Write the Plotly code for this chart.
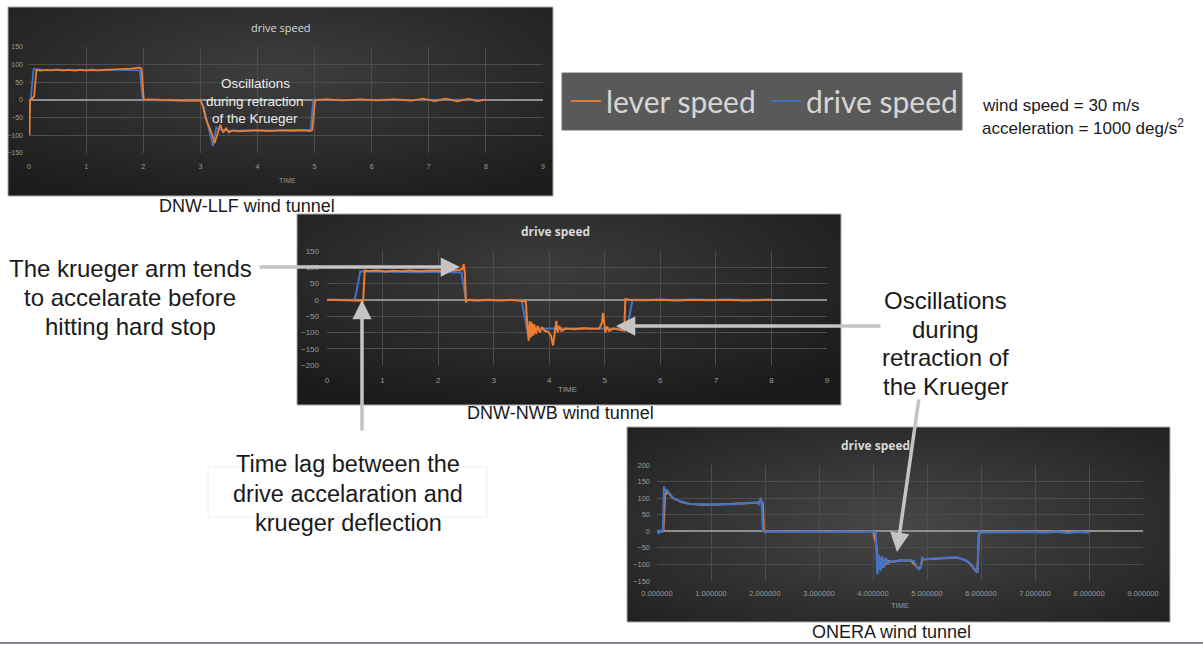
import base64
import plotly.graph_objects as go

W, H = 1203, 646

# ---------------- data ----------------
# DNW-LLF
LLF_T_DRIVE = [0.00, 0.03, 0.08,
               0.15, 0.25, 0.35, 0.45, 0.55, 0.65, 0.75, 0.85, 0.95, 1.05, 1.15, 1.25, 1.35, 1.45, 1.55, 1.65, 1.75, 1.85,
               1.94, 1.99, 2.05, 2.30, 2.60, 2.90, 3.00,
               3.06, 3.12, 3.22, 3.28, 3.34, 3.42,
               3.55, 3.70, 3.90, 4.10, 4.30, 4.50, 4.70,
               4.88, 4.93, 4.98,
               5.20, 5.50, 5.80, 6.10, 6.40, 6.70, 7.00, 7.30, 7.60, 8.00]
LLF_DRIVE = [0, 0, 88,
             86, 85, 84, 86, 84, 85, 84, 85, 84, 85, 84, 84, 85, 84, 85, 85, 84, 85,
             84, 2, -1, -1, -1, -1, -2,
             -20, -60, -130, -78, -84, -86,
             -87, -86, -85, -86, -86, -85, -86,
             -85, -84, 0,
             1, 0, 1, 0, 1, 0, 1, 0, 1, 0]
LLF_T_LEVER = [0.00, 0.01, 0.02, 0.05, 0.09, 0.13,
               0.20, 0.30, 0.40, 0.50, 0.60, 0.70, 0.80, 0.90, 1.00, 1.10, 1.20, 1.30, 1.40, 1.50, 1.60, 1.70, 1.80,
               1.88, 1.94, 1.97, 2.01, 2.10,
               2.40, 2.70, 3.00,
               3.04, 3.10, 3.15, 3.20, 3.25, 3.30, 3.35, 3.40, 3.45, 3.50, 3.56,
               3.65, 3.80, 4.00, 4.20, 4.40, 4.60, 4.80,
               4.92, 4.96, 5.01,
               5.20, 5.50, 5.80, 6.10, 6.40, 6.70, 6.90, 7.10, 7.30, 7.50, 7.70, 7.85, 8.00]
LLF_LEVER = [-5, -100, 0, 4, 10, 85,
             83, 85, 84, 86, 84, 85, 83, 85, 84, 86, 84, 85, 86, 85, 86, 87, 89,
             91, 92, 88, 0, 2,
             -1, -2, -1,
             -15, -55, -75, -95, -122, -95, -70, -92, -80, -92, -86,
             -89, -87, -86, -88, -86, -87, -86,
             -88, -85, 0,
             2, -1, 2, -1, 2, -2, 4, -3, 4, -4, 3, -3, 1]

# DNW-NWB
NWB_T_DRIVE = [0.00, 0.50, 0.60, 0.70,
               0.90, 1.10, 1.30, 1.50, 1.70, 1.90, 2.10, 2.30,
               2.42, 2.50, 2.60, 2.90, 3.20, 3.50, 3.60,
               3.80, 4.00, 4.20, 4.40, 4.60, 4.80, 5.00, 5.20, 5.40,
               5.50, 5.80, 6.20, 6.60, 7.00, 7.40, 7.80, 8.00]
NWB_DRIVE = [0, 0, 88, 87,
             86, 86, 85, 86, 85, 86, 85, 85,
             84, 0, -1, -1, -1, 0, -88,
             -88, -87, -88, -88, -87, -88, -87, -88, -88,
             0, 0, 0, 0, 0, 0, 0, 0]
NWB_T_LEVER = [0.00, 0.30, 0.60, 0.65, 0.68, 0.75,
               0.90, 1.05, 1.20, 1.35, 1.50, 1.65, 1.80, 1.95, 2.10, 2.25,
               2.38, 2.44, 2.46, 2.48, 2.50, 2.55,
               2.70, 2.90, 3.10, 3.30, 3.50,
               3.58, 3.61, 3.63, 3.65, 3.67, 3.69, 3.71, 3.73, 3.76, 3.79, 3.83, 3.87, 3.92, 3.98,
               4.03, 4.07, 4.09, 4.11, 4.13, 4.15, 4.18, 4.22, 4.30,
               4.45, 4.60, 4.75, 4.90,
               4.95, 4.97, 4.99, 5.01, 5.04, 5.08, 5.15, 5.25, 5.35, 5.37,
               5.45, 5.70, 6.00, 6.30, 6.60, 6.90, 7.20, 7.50, 7.80, 8.00]
NWB_LEVER = [0, -1, -2, -3, 90, 88,
             90, 87, 89, 88, 90, 88, 89, 90, 88, 90,
             92, 95, 110, 85, -5, 0,
             -2, 0, -2, 0, -2,
             -5, -90, -125, -65, -115, -70, -110, -75, -105, -80, -100, -85, -95, -98,
             -110, -140, -100, -85, -65, -100, -80, -95, -88,
             -90, -87, -89, -88,
             -70, -40, -80, -100, -82, -95, -88, -91, -94, 2,
             0, -1, 0, -2, 0, -1, 0, -2, 0, 0]

# ONERA
ON_T_DRIVE = [0.00, 0.03, 0.06, 0.09, 0.11, 0.13, 0.15, 0.18, 0.22,
              0.30, 0.40, 0.50, 0.60,
              0.80, 1.00, 1.20, 1.40, 1.60,
              1.75, 1.85, 1.89, 1.92, 1.94, 1.96, 2.00,
              2.20, 2.50, 2.80, 3.10, 3.40, 3.70, 4.00,
              4.05, 4.08, 4.11, 4.14, 4.17, 4.20, 4.24, 4.28, 4.33, 4.40,
              4.50, 4.60, 4.70, 4.76, 4.80, 4.85, 4.88, 4.91, 4.95, 5.00,
              5.20, 5.40, 5.55, 5.65, 5.75, 5.82, 5.88, 5.92, 5.94, 5.96,
              6.00, 6.30, 6.60, 6.90, 7.20, 7.40, 7.60, 7.80, 8.00]
ON_DRIVE = [5, -5, 2, -4, 5, 135, 118, 126, 114,
            100, 92, 87, 83,
            81, 80, 81, 82, 84,
            86, 87, 82, 100, 88, 2, -2,
            0, -2, 0, -2, 0, -2, 0,
            -5, -130, -70, -120, -75, -110, -80, -100, -88, -92,
            -88, -87, -88, -90, -105, -115, -110, -80, -85, -83,
            -82, -81, -78, -84, -90, -100, -112, -122, -120, 0,
            -3, -2, -3, -2, -4, 0, -5, -2, -4]
ON_T_LEVER = [0.00, 0.05, 0.10, 0.12, 0.15, 0.20,
              0.30, 0.45, 0.60, 0.80, 1.00, 1.30, 1.60, 1.85,
              1.92, 1.96, 1.98, 2.05,
              2.50, 3.00, 3.50, 4.00,
              4.06, 4.10, 4.13, 4.16, 4.19, 4.23, 4.28, 4.35,
              4.50, 4.70, 4.78, 4.84, 4.88, 4.92, 5.00,
              5.30, 5.55, 5.70, 5.80, 5.88, 5.93, 5.96, 6.00,
              6.50, 7.00, 7.50, 8.00]
ON_LEVER = [0, -2, 0, 5, 110, 120,
            100, 88, 83, 80, 80, 82, 84, 86,
            90, 85, 0, -1,
            0, -1, 0, 0,
            -40, -115, -80, -110, -85, -100, -90, -92,
            -88, -88, -102, -112, -108, -84, -84,
            -81, -79, -86, -98, -115, -125, -10, -2,
            -1, -2, -1, -2]

X_TICKS = [0, 1, 2, 3, 4, 5, 6, 7, 8, 9]
Y_TICKS_LLF = [-150, -100, -50, 0, 50, 100, 150]
Y_TICKS_NWB = [-200, -150, -100, -50, 0, 50, 100, 150]
Y_TICKS_ON = [-150, -100, -50, 0, 50, 100, 150, 200]

ORANGE = "#ED7D31"
BLUE = "#4472C4"


def px(x):
    return x / W


def py(y):
    return 1 - y / H


def gradient_svg(w, h, cx, cy, c0, c1):
    svg = (f"<svg xmlns='http://www.w3.org/2000/svg' width='{w}' height='{h}' "
           f"viewBox='0 0 {w} {h}' preserveAspectRatio='none'>"
           f"<defs><radialGradient id='g' cx='{cx}' cy='{cy}' r='0.75'>"
           f"<stop offset='0' stop-color='{c0}'/><stop offset='1' stop-color='{c1}'/>"
           f"</radialGradient></defs>"
           f"<rect x='0' y='0' width='{w}' height='{h}' fill='url(#g)'/></svg>")
    return "data:image/svg+xml;base64," + base64.b64encode(svg.encode()).decode()


fig = go.Figure()

# chart 1 traces (lever on top)
fig.add_trace(go.Scatter(x=LLF_T_DRIVE, y=LLF_DRIVE, mode="lines", name="drive speed",
                         line=dict(color=BLUE, width=1.8), legendgroup="d", legendrank=2,
                         xaxis="x", yaxis="y"))
fig.add_trace(go.Scatter(x=LLF_T_LEVER, y=LLF_LEVER, mode="lines", name="lever speed",
                         line=dict(color=ORANGE, width=1.8), legendgroup="l", legendrank=1,
                         xaxis="x", yaxis="y"))
# chart 2
fig.add_trace(go.Scatter(x=NWB_T_DRIVE, y=NWB_DRIVE, mode="lines", name="drive speed",
                         line=dict(color=BLUE, width=2), legendgroup="d", showlegend=False,
                         xaxis="x2", yaxis="y2"))
fig.add_trace(go.Scatter(x=NWB_T_LEVER, y=NWB_LEVER, mode="lines", name="lever speed",
                         line=dict(color=ORANGE, width=2), legendgroup="l", showlegend=False,
                         xaxis="x2", yaxis="y2"))
# chart 3 (drive on top)
fig.add_trace(go.Scatter(x=ON_T_LEVER, y=ON_LEVER, mode="lines", name="lever speed",
                         line=dict(color=ORANGE, width=2), legendgroup="l", showlegend=False,
                         xaxis="x3", yaxis="y3"))
fig.add_trace(go.Scatter(x=ON_T_DRIVE, y=ON_DRIVE, mode="lines", name="drive speed",
                         line=dict(color=BLUE, width=2.2), legendgroup="d", showlegend=False,
                         xaxis="x3", yaxis="y3"))

charts = [
    dict(sfx="", box=(8, 7, 553, 196), plot=(29, 47, 543, 153), yr=[-150, 150], yt=Y_TICKS_LLF,
         fmt=None, tf=7, xs=8, ys=5, title=(281, 27, 11), time=(287, 180), grad=("50%", "35%", "#3e3e3e", "#1c1c1c")),
    dict(sfx="2", box=(297, 214, 841, 405), plot=(327, 251, 827, 365), yr=[-200, 150], yt=Y_TICKS_NWB,
         fmt=None, tf=8, xs=9, ys=7, title=(555, 231, 12), time=(567, 389), grad=("45%", "30%", "#3c3c3c", "#1a1a1a")),
    dict(sfx="3", box=(627, 427, 1170, 622), plot=(657, 465, 1143, 581), yr=[-150, 200], yt=Y_TICKS_ON,
         fmt=".6f", tf=7.5, xs=6, ys=6, title=(875, 445, 12), time=(900, 605), grad=("50%", "50%", "#474747", "#1e1e1e")),
]

images = []
shapes = []
annotations = []
tick_font = "Liberation Sans Narrow, Liberation Sans, Arial"

for c in charts:
    x0, y0, x1, y1 = c["box"]
    cx, cy, c0, c1 = c["grad"]
    images.append(dict(source=gradient_svg(x1 - x0, y1 - y0, cx, cy, c0, c1), xref="paper", yref="paper",
                       x=px(x0), y=py(y0), sizex=(x1 - x0) / W, sizey=(y1 - y0) / H,
                       xanchor="left", yanchor="top", sizing="stretch", layer="below"))
    shapes.append(dict(type="rect", xref="paper", yref="paper", x0=px(x0), x1=px(x1), y0=py(y1), y1=py(y0),
                       line=dict(color="#a8a8a8", width=1), fillcolor="rgba(0,0,0,0)", layer="below"))
    p0, q0, p1, q1 = c["plot"]
    xa = dict(domain=[px(p0), px(p1)], range=[0, 9], tickvals=X_TICKS, showgrid=True,
              gridcolor="#4d4d4d", gridwidth=1, zeroline=False, showline=False, ticks="",
              tickfont=dict(family=tick_font, size=c["tf"], color="#9a9a9a"), automargin=False,
              ticklabelstandoff=c["xs"], anchor="y" + c["sfx"], fixedrange=True)
    if c["fmt"]:
        xa["tickformat"] = c["fmt"]
    ya = dict(domain=[py(q1), py(q0)], range=c["yr"], tickvals=c["yt"], showgrid=True,
              gridcolor="#4d4d4d", gridwidth=1, zeroline=True, zerolinecolor="#8e8e8e", zerolinewidth=1.5,
              showline=False, ticks="", tickfont=dict(family=tick_font, size=c["tf"], color="#9a9a9a"),
              automargin=False, ticklabelstandoff=c["ys"], anchor="x" + c["sfx"], fixedrange=True)
    fig.layout["xaxis" + c["sfx"]] = xa
    fig.layout["yaxis" + c["sfx"]] = ya
    tx, ty, ts = c["title"]
    annotations.append(dict(text="<b>drive speed</b>" if ts > 11 else "drive speed", xref="paper", yref="paper",
                            x=px(tx), y=py(ty), xanchor="center", yanchor="middle", showarrow=False,
                            font=dict(family="Open Sans, Lato", size=ts, color="#d8d8d8")))
    mx, my = c["time"]
    annotations.append(dict(text="TIME", xref="paper", yref="paper", x=px(mx), y=py(my),
                            xanchor="center", yanchor="middle", showarrow=False,
                            font=dict(family=tick_font, size=c["tf"], color="#9a9a9a")))

# legend background box
shapes.append(dict(type="rect", xref="paper", yref="paper", x0=px(562), x1=px(962), y0=py(130), y1=py(73),
                   line=dict(color="#6a6a6a", width=1), fillcolor="#595959", layer="below"))
# faint box around time-lag text
shapes.append(dict(type="rect", xref="paper", yref="paper", x0=px(208), x1=px(487), y0=py(517), y1=py(467),
                   line=dict(color="#eeeeee", width=1), fillcolor="rgba(0,0,0,0)", layer="below"))
# bottom rule
shapes.append(dict(type="line", xref="paper", yref="paper", x0=0, x1=1, y0=py(643), y1=py(643),
                   line=dict(color="#5a5e6e", width=1.5)))

ARIAL = "Arial, Liberation Sans"


def text(s, x, y, size, color="#1a1a1a", anchor="center"):
    annotations.append(dict(text=s, xref="paper", yref="paper", x=px(x), y=py(y), xanchor=anchor,
                            yanchor="middle", showarrow=False, font=dict(family=ARIAL, size=size, color=color)))


# chart 1 inner note
for s, yy in [("Oscillations", 84), ("during retraction", 101), ("of the Krueger", 118)]:
    text(s, 255, yy, 13.5, "#ececec")

# captions
text("DNW-LLF wind tunnel", 247, 206, 18)
text("DNW-NWB wind tunnel", 560, 413, 18)
text("ONERA wind tunnel", 891, 632, 18)

# wind info
text("wind speed = 30 m/s", 980, 105, 17, anchor="left")
text("acceleration = 1000 deg/s<sup>2</sup>", 980, 127, 17, anchor="left")

# callout texts
for s, yy in [("The krueger arm tends", 268), ("to accelarate before", 297), ("hitting hard stop", 326)]:
    text(s, 130, yy, 24)
for s, yy in [("Oscillations", 300), ("during", 329), ("retraction of", 357), ("the Krueger", 386)]:
    text(s, 945, yy, 24)
for s, yy in [("Time lag between the", 464), ("drive accelaration and", 494), ("krueger deflection", 523)]:
    text(s, 348, yy, 23.5)

# arrows (tip, tail)
ARROW = "#c4c4c4"
for (tx, ty), (sx, sy) in [((460, 267), (258, 267)),
                           ((362, 300), (362, 432)),
                           ((616, 326), (882, 326)),
                           ((897, 552), (919, 398))]:
    annotations.append(dict(text="", xref="paper", yref="paper", x=px(tx), y=py(ty),
                            axref="pixel", ayref="pixel", ax=sx - tx, ay=sy - ty,
                            showarrow=True, arrowhead=2, arrowsize=1.1, arrowwidth=3.5, arrowcolor=ARROW,
                            standoff=0, startstandoff=0))

fig.update_layout(
    width=W, height=H, margin=dict(l=0, r=0, t=0, b=0, pad=0, autoexpand=False),
    paper_bgcolor="white", plot_bgcolor="rgba(0,0,0,0)",
    images=images, shapes=shapes, annotations=annotations,
    showlegend=True,
    legend=dict(x=px(566), y=py(101), xanchor="left", yanchor="middle", orientation="h",
                bgcolor="rgba(0,0,0,0)", borderwidth=0, itemwidth=30, traceorder="normal",
                entrywidth=155, entrywidthmode="pixels",
                font=dict(family="Lato, Open Sans", size=30, color="#d6d6d6"),
                itemclick=False, itemdoubleclick=False),
)

fig.write_html("out.html", config={"displayModeBar": False},
               post_script="document.body.style.margin='0';")
